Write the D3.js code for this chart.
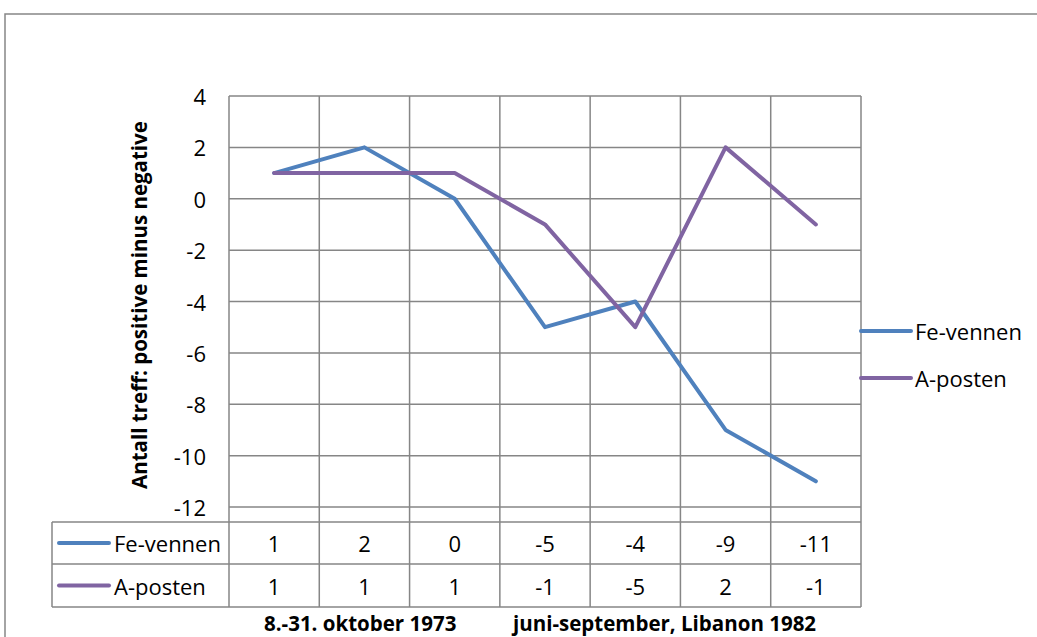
<!DOCTYPE html>
<html>
<head>
<meta charset="utf-8">
<script src="https://cdn.jsdelivr.net/npm/d3@7"></script>
<style>
  body { margin: 0; background: #fff; }
  text { font-family: "Open Sans", "Liberation Sans", sans-serif; fill: #000; }
</style>
</head>
<body>
<script>
// data
var categories = [0, 1, 2, 3, 4, 5, 6];           // unlabeled category slots
var categoryLabels = ['', '', '', '', '', '', ''];
var feVennen = [1, 2, 0, -5, -4, -9, -11];
var aPosten = [1, 1, 1, -1, -5, 2, -1];
var seriesNames = ['Fe-vennen', 'A-posten'];
var seriesColors = ['#4f81bd', '#8064a2'];
var yTicks = [4, 2, 0, -2, -4, -6, -8, -10, -12];
var yTitle = 'Antall treff: positive minus negative';
var xTitleParts = ['8.-31. oktober 1973', 'juni-september, Libanon 1982'];

var series = [feVennen, aPosten];
var grid = '#868686';

var svg = d3.select('body').append('svg')
    .attr('width', 1037)
    .attr('height', 637);

// outer chart border (runs off to the right and bottom)
svg.append('rect')
    .attr('x', 5).attr('y', 14)
    .attr('width', 1100).attr('height', 700)
    .attr('fill', 'none')
    .attr('stroke', grid)
    .attr('stroke-width', 1.5);

//scales
var xscale = d3.scaleBand().domain(categories).range([229, 861]);
var yscale = d3.scaleLinear().domain([-12, 4]).range([507, 96]);

var plotLeft = 229, plotRight = 861, plotTop = 96, plotBottom = 507;
var tableLeft = 52, headerBottom = 522, row1 = 564, row2 = 607;

// horizontal gridlines
svg.append('g').selectAll('line')
    .data(yTicks)
    .enter().append('line')
        .attr('x1', plotLeft).attr('x2', plotRight)
        .attr('y1', function (d) { return yscale(d); })
        .attr('y2', function (d) { return yscale(d); })
        .attr('stroke', grid)
        .attr('stroke-width', 1.5);

// vertical lines (category boundaries through plot and table)
var bounds = categories.map(function (c) { return xscale(c); }).concat([xscale.range()[1]]);
svg.append('g').selectAll('line')
    .data(bounds)
    .enter().append('line')
        .attr('x1', function (d) { return d; })
        .attr('x2', function (d) { return d; })
        .attr('y1', plotTop).attr('y2', row2)
        .attr('stroke', grid)
        .attr('stroke-width', 1.5);

// table horizontal lines and left edge
[headerBottom, row1, row2].forEach(function (y) {
    svg.append('line')
        .attr('x1', tableLeft).attr('x2', plotRight)
        .attr('y1', y).attr('y2', y)
        .attr('stroke', grid).attr('stroke-width', 1.5);
});
svg.append('line')
    .attr('x1', tableLeft).attr('x2', tableLeft)
    .attr('y1', headerBottom).attr('y2', row2)
    .attr('stroke', grid).attr('stroke-width', 1.5);

// y tick labels
svg.append('g').selectAll('text')
    .data(yTicks)
    .enter().append('text')
        .attr('x', 206)
        .attr('y', function (d) { return yscale(d); })
        .attr('text-anchor', 'end')
        .attr('dominant-baseline', 'central')
        .attr('font-size', '22px')
        .text(function (d) { return d; });

// y axis title
svg.append('text')
    .attr('transform', 'translate(139,305) rotate(-90)')
    .attr('text-anchor', 'middle')
    .attr('dominant-baseline', 'central')
    .attr('font-size', '20.5px')
    .attr('font-weight', 'bold')
    .text(yTitle);

// category header labels (blank in this chart)
svg.append('g').selectAll('text')
    .data(categories)
    .enter().append('text')
        .attr('x', function (d) { return xscale(d) + xscale.bandwidth() / 2; })
        .attr('y', (plotBottom + headerBottom) / 2)
        .attr('text-anchor', 'middle')
        .attr('dominant-baseline', 'central')
        .attr('font-size', '12px')
        .text(function (d) { return categoryLabels[d]; });

// lines
var line = d3.line()
    .x(function (d, i) { return xscale(categories[i]) + xscale.bandwidth() / 2; })
    .y(function (d) { return yscale(d); });

series.forEach(function (s, k) {
    svg.append('path')
        .datum(s)
        .attr('d', line)
        .attr('fill', 'none')
        .attr('stroke', seriesColors[k])
        .attr('stroke-width', 4)
        .attr('stroke-linejoin', 'round')
        .attr('stroke-linecap', 'round');
});

// data table rows
var rowMid = [(headerBottom + row1) / 2, (row1 + row2) / 2];
series.forEach(function (s, k) {
    var y = rowMid[k];
    svg.append('line')
        .attr('x1', 59).attr('x2', 109)
        .attr('y1', y).attr('y2', y)
        .attr('stroke', seriesColors[k])
        .attr('stroke-width', 4)
        .attr('stroke-linecap', 'round');
    svg.append('text')
        .attr('x', 114).attr('y', y)
        .attr('dominant-baseline', 'central')
        .attr('font-size', '22px')
        .text(seriesNames[k]);
    svg.append('g').selectAll('text')
        .data(s)
        .enter().append('text')
            .attr('x', function (d, i) { return xscale(categories[i]) + xscale.bandwidth() / 2; })
            .attr('y', y)
            .attr('text-anchor', 'middle')
            .attr('dominant-baseline', 'central')
            .attr('font-size', '22px')
            .text(function (d) { return d; });
});

// legend on right
var legendY = [331, 378];
seriesNames.forEach(function (n, k) {
    svg.append('line')
        .attr('x1', 861).attr('x2', 911)
        .attr('y1', legendY[k]).attr('y2', legendY[k])
        .attr('stroke', seriesColors[k])
        .attr('stroke-width', 4)
        .attr('stroke-linecap', 'round');
    svg.append('text')
        .attr('x', 915).attr('y', legendY[k])
        .attr('dominant-baseline', 'central')
        .attr('font-size', '22px')
        .text(n);
});

// x axis title (two parts)
var xTitleX = [264, 513];
xTitleParts.forEach(function (t, k) {
    svg.append('text')
        .attr('x', xTitleX[k]).attr('y', 631)
        .attr('font-size', '20.5px')
        .attr('font-weight', 'bold')
        .text(t);
});
</script>
</body>
</html>
